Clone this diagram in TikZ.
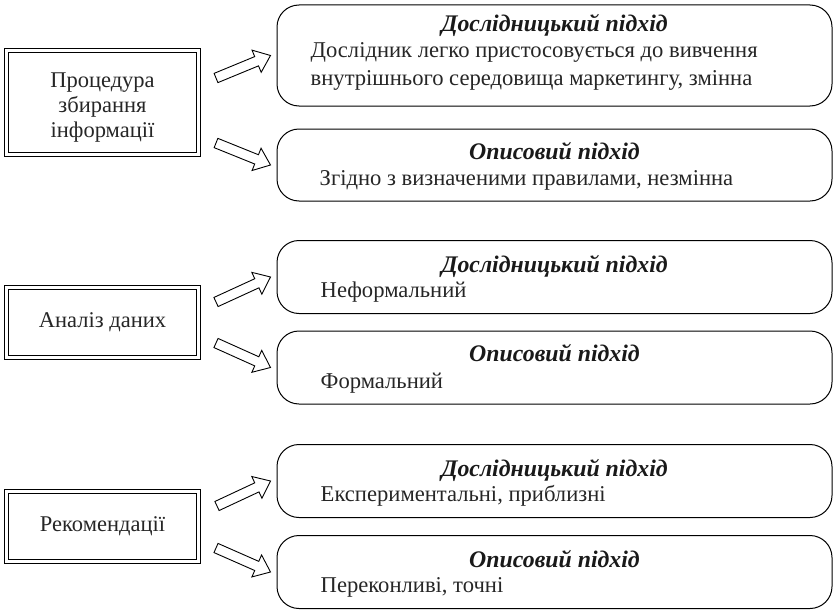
\documentclass[tikz,border=0pt]{standalone}
\usepackage{fontspec}
\setmainfont{Liberation Serif}
\usetikzlibrary{positioning}
\usetikzlibrary{calc}
\tikzset{
    srcbox/.style={draw, double, double distance=3.2pt, line width=0.8pt,
            minimum width=192pt, minimum height=70pt, align=center,
            font=\fontsize{22.5}{25}\selectfont, text=black!85},
    apbox/.style={draw, line width=1pt, rounded corners=22pt,
            minimum width=555pt, minimum height=73pt},
    aptitle/.style={anchor=base, inner sep=0pt, text=black!90,
            font=\fontsize{23.8}{26}\selectfont\bfseries\itshape},
    aptext/.style={anchor=base west, inner sep=0pt, text=black!85,
            font=\fontsize{22.6}{26}\selectfont},
    blockarr/.style={draw, line width=0.9pt, line join=miter, fill=white}
}
\newcommand{\blockarrow}[2]{%
    \path[blockarr] let \p1=($(#2)-(#1)$), \n1={atan2(\y1,\x1)}, \n2={veclen(\x1,\y1)} in
        ($(#1)+(\n1+90:5pt)$) -- ++(\n1:\n2-15pt) -- ++(\n1+90:7pt) -- (#2)
        -- ($(#1)+(\n1:\n2-15pt)+(\n1-90:12pt)$) -- ++(\n1+90:7pt)
        -- ($(#1)+(\n1-90:5pt)$) -- cycle;}

\begin{document}
\begin{tikzpicture}[x=1pt, y=-1pt]
    \useasboundingbox (0,0) rectangle (835,610);
    % left boxes
    \node[srcbox, minimum height=104pt] (proc) at (102.5,102.5)
        {\raisebox{-5pt}[\height][\depth]{\begin{tabular}{@{}c@{}}Процедура\\збирання\\інформації\end{tabular}}};
    \node[srcbox] (anal) at (102.5,322.5) {Аналіз даних};
    \node[srcbox] (recom) at (102.5,526.5) {Рекомендації};

    % right boxes
    \node[apbox, minimum height=101pt] (proc-d) at (554.5,55.5) {};
    \node[apbox, minimum height=72pt] (proc-o) at (554.5,165) {};
    \node[apbox] (anal-d) at (554.5,277) {};
    \node[apbox] (anal-o) at (554.5,367.5) {};
    \node[apbox] (recom-d) at (554.5,481) {};
    \node[apbox] (recom-o) at (554.5,572) {};

    \node[aptitle] (proc-d-t) at ([yshift=-27pt]proc-d.north) {Дослідницький підхід};
    \node[aptext] (proc-d-1) at ([xshift=34pt, yshift=-53pt]proc-d.north west) {Дослідник легко пристосовується до вивчення};
    \node[aptext] (proc-d-2) at ([yshift=-28pt]proc-d-1.base west) {внутрішнього середовища маркетингу, змінна};

    \node[aptitle] (proc-o-t) at ([yshift=-31pt]proc-o.north) {Описовий підхід};
    \node[aptext] (proc-o-1) at ([xshift=43pt, yshift=16.5pt]proc-o.south west) {Згідно з визначеними правилами, незмінна};

    \node[aptitle] (anal-d-t) at ([yshift=-32pt]anal-d.north) {Дослідницький підхід};
    \node[aptext] (anal-d-1) at ([xshift=44pt, yshift=16.5pt]anal-d.south west) {Неформальний};

    \node[aptitle] (anal-o-t) at ([yshift=-31pt]anal-o.north) {Описовий підхід};
    \node[aptext] (anal-o-1) at ([xshift=44pt, yshift=16.5pt]anal-o.south west) {Формальний};

    \node[aptitle] (recom-d-t) at ([yshift=-32pt]recom-d.north) {Дослідницький підхід};
    \node[aptext] (recom-d-1) at ([xshift=44pt, yshift=16.5pt]recom-d.south west) {Експериментальні, приблизні};

    \node[aptitle] (recom-o-t) at ([yshift=-32pt]recom-o.north) {Описовий підхід};
    \node[aptext] (recom-o-1) at ([xshift=44pt, yshift=16.5pt]recom-o.south west) {Переконливі, точні};

    % arrows
    \coordinate (proc-u) at (216,78);
    \coordinate (proc-l) at (216,143);
    \coordinate (anal-u) at (216,302);
    \coordinate (anal-l) at (216,343);
    \coordinate (recom-u) at (217,506);
    \coordinate (recom-l) at (216,548);
    \blockarrow{proc-u}{[xshift=-6pt]proc-d.west}
    \blockarrow{proc-l}{[xshift=-6pt]proc-o.west}
    \blockarrow{anal-u}{[xshift=-6pt]anal-d.west}
    \blockarrow{anal-l}{[xshift=-6pt]anal-o.west}
    \blockarrow{recom-u}{[xshift=-6pt]recom-d.west}
    \blockarrow{recom-l}{[xshift=-6pt]recom-o.west}
\end{tikzpicture}
\end{document}
